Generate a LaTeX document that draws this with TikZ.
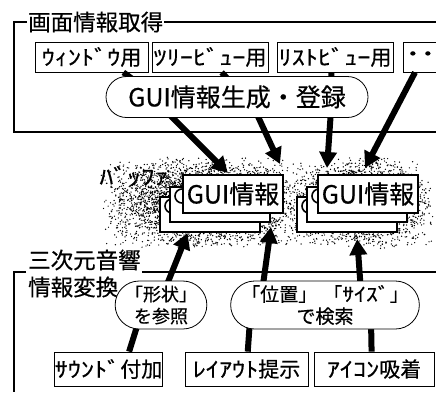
\documentclass[tikz,border=0pt]{standalone}
\usepackage{fontspec}
\setmainfont{Noto Sans CJK JP}[FakeBold=0.5]
\newfontfamily\hw{Noto Sans CJK JP}[FakeStretch=1.25,FakeBold=0.5]
\usetikzlibrary{arrows.meta,shapes.misc,calc}
\begin{document}
\begin{tikzpicture}[x=1pt,y=-1pt,
  frame/.style={line width=2pt},
  gbox/.style={draw,line width=0.8pt,fill=white,inner sep=0pt,minimum height=30pt,font=\fontsize{21}{21}\selectfont},
  bbox/.style={draw,line width=0.8pt,fill=white,inner sep=0pt,minimum height=34pt,font=\fontsize{21}{21}\selectfont},
  proc/.style={draw,rounded rectangle,line width=0.8pt,fill=white,inner sep=0pt,align=center},
  card/.style={draw,line width=2pt,fill=white,inner sep=0pt,minimum width=100pt,minimum height=36pt,font=\fontsize{25}{25}\selectfont},
  conn/.style={line width=6pt},
  arr/.style={line width=6pt,-{Triangle[length=16pt,width=17pt]}},
  curl/.style={line width=1.6pt},
  ttl/.style={inner sep=1pt,font=\fontsize{22.5}{22.5}\selectfont}]
\useasboundingbox (0,0) rectangle (436,392);
\fill[white] (0,0) rectangle (436,392);

% ---------- top group ----------
\node[ttl,anchor=west] (t1) at (27,22) {画面情報取得};
\coordinate (f1a) at (14,22);
\coordinate (f1b) at (14,132);
\coordinate (f1c) at (436,132);
\coordinate (f1d) at (436,22);
\draw[frame] (t1.west) -- (f1a) -- (f1b) -- (f1c);
\draw[frame] (t1.east) -- (f1d);

\node[gbox,minimum width=113pt] (b1) at (91.5,57) {{\hw ｳｨﾝﾄﾞｳ}用};
\node[gbox,minimum width=116pt] (b2) at (210,57) {{\hw ﾂﾘｰﾋﾞｭｰ}用};
\node[gbox,minimum width=116pt] (b3) at (335,57) {{\hw ﾘｽﾄﾋﾞｭｰ}用};
\node[gbox,minimum width=34pt,anchor=west] (b4) at (403,57) {{\fontsize{24}{24}\hw ･･}};

% hidden ends under the ellipse
\coordinate (g1) at (150,92);
\coordinate (g2) at (240,92);
\coordinate (g3) at (331,92);
\coordinate (g4) at (165,110);
\coordinate (g5) at (255,110);
\coordinate (g6) at (331,110);
\draw[conn] ($(b1.south west)!0.78!(b1.south east)$) -- (g1);
\draw[conn] ($(b2.south west)!0.6!(b2.south east)$) -- (g2);
\draw[conn] ($(b3.south west)!0.47!(b3.south east)$) -- (g3);

% ---------- buffer stipple ----------
\pgfmathsetseed{11}
\foreach \i in {1,...,4200}{
  \pgfmathsetmacro\xx{204+104*(rnd+rnd-1)}
  \pgfmathsetmacro\yy{203+46*(rnd+rnd-1)}
  \fill (\xx,\yy) circle (0.7pt);
}
\foreach \i in {1,...,3000}{
  \pgfmathsetmacro\xx{362+72*(rnd+rnd-1)}
  \pgfmathsetmacro\yy{203+46*(rnd+rnd-1)}
  \fill (\xx,\yy) circle (0.7pt);
}
\node[inner sep=1pt,font=\fontsize{22}{22}\hw] (buf) at (134,176) {ﾊﾞｯﾌｧ};

% left stack
\node[card,minimum height=35pt] (l3) at (210,214.5) {};
\draw[curl] ($(l3.north west)+(13,3)$) arc[start angle=90,end angle=270,radius=7pt];
\node[card,minimum height=35pt] (l2) at (220,204.5) {};
\draw[curl] ($(l2.north west)+(13,3)$) arc[start angle=90,end angle=270,radius=7pt];
\node[card,minimum height=38pt] (l1) at (233,194) {GUI情報};
% right stack
\node[card,minimum height=35pt] (r3) at (347,214.5) {};
\draw[curl] ($(r3.north west)+(13,3)$) arc[start angle=90,end angle=270,radius=7pt];
\node[card,minimum height=35pt] (r2) at (357,204.5) {};
\draw[curl] ($(r2.north west)+(13,3)$) arc[start angle=90,end angle=270,radius=7pt];
\node[card,minimum height=38pt] (r1) at (368,194) {GUI情報};

% arrows into the buffer
\draw[arr] (g4) -- ($(l1.north west)!0.45!(l1.north east)+(0,-1)$);
\draw[arr] (g5) -- ($(l1.north east)+(-4,-10)$);
\draw[arr] (g6) -- ($(r1.north west)+(10,-6)$);
\draw[arr] ($(b4.south west)+(12,0)$) -- ($(r1.north west)+(48,-6)$);

\node[proc,minimum width=262pt,minimum height=41pt,font=\fontsize{25}{25}\selectfont] (g) at (237,97) {GUI情報生成・登録};

% ---------- bottom group ----------
\node[ttl,anchor=west] (t2) at (27,260) {三次元音響};
\node[ttl,anchor=west] (t3) at (27,287) {情報変換};
\coordinate (f2a) at (14,272);
\coordinate (f2b) at (14,392);
\coordinate (f2c) at (26,272);
\coordinate (f2d) at (436,272);
\draw[frame] (f2c) -- (f2a) -- (f2b);
\draw[frame] (t2.east |- f2a) -- (f2d);

\node[bbox,minimum width=103pt] (s1) at (108.5,369) {{\hw ｻｳﾝﾄﾞ}付加};
\node[bbox,minimum width=123pt] (s2) at (246.5,369) {{\hw ﾚｲｱｳﾄ}提示};
\node[bbox,minimum width=120pt] (s3) at (374,369) {{\hw ｱｲｺﾝ}吸着};

\coordinate (o1a) at (139,320);
\coordinate (o2a) at (250,320);
\coordinate (o2b) at (371,320);
\coordinate (o1b) at (164,292);
\coordinate (o2c) at (262,292);
\coordinate (o2d) at (361,292);
\draw[conn] ($(s1.north west)!0.69!(s1.north east)$) -- (o1a);
\draw[conn] ($(s2.north west)!0.51!(s2.north east)$) -- (o2a);
\draw[conn] ($(s3.north west)!0.48!(s3.north east)$) -- (o2b);
\draw[arr] (o1b) -- ($(l3.south west)!0.28!(l3.south east)$);
\draw[arr] (o2c) -- ($(l2.south east)+(0,4)$);
\draw[arr] (o2d) -- ($(r3.south west)!0.6!(r3.south east)+(0,6)$);

\node[proc,minimum width=64pt,minimum height=48pt,font=\fontsize{18}{22}\selectfont] (o1) at (161,305) {「形状」\\を参照};
\node[proc,minimum width=184pt,minimum height=48pt,font=\fontsize{19}{22}\selectfont] (o2) at (325,305) {「位置」\hspace{6pt}「{\hw ｻｲｽﾞ}」\\で検索};
\end{tikzpicture}
\end{document}
